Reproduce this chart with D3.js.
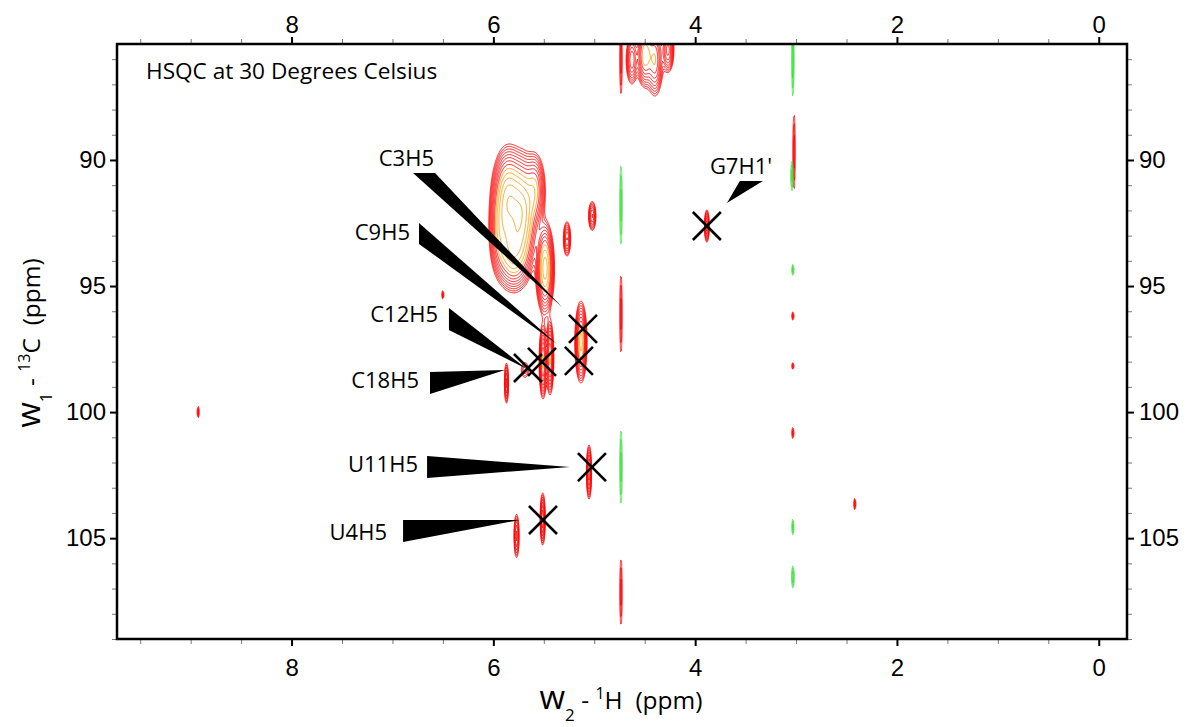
<!DOCTYPE html>
<html>
<head>
<meta charset="utf-8">
<script src="https://cdn.jsdelivr.net/npm/d3@7"></script>
<style>
  body { margin: 0; background: #fff; }
  .tick text { font-family: "Liberation Sans", Arial, sans-serif; font-size: 24px; fill: #000; }
  .lbl { font-family: "Open Sans", sans-serif; font-size: 22px; fill: #000; white-space: pre; }
</style>
</head>
<body>
<svg id="chart" width="1186" height="727"></svg>
<script>
// peaks: [1H ppm, 13C ppm, 1H sigma, 13C sigma, height]  (negative height = green)
const peaks = [
  // big cluster 5.5 - 6.0 ppm
  [5.855, 91.6, 0.07, 0.9, 1.0],
  [5.717, 92.1, 0.07, 1.0, 1.0],
  [5.806, 93.6, 0.08, 0.7, 0.8],
  [5.488, 94.3, 0.04, 0.8, 0.8],
  [5.934, 92.78, 0.05, 0.8, 0.4],
  [5.588, 91.2, 0.05, 0.7, 0.4],
  [5.27, 93.13, 0.02, 0.38, 0.25],
  [5.02, 92.22, 0.02, 0.32, 0.25],
  // cluster at the top edge
  [4.627, 86.03, 0.03, 0.5, 0.3],
  [4.498, 85.83, 0.04, 0.6, 0.5],
  [4.399, 86.03, 0.04, 0.7, 0.4],
  [4.27, 85.64, 0.03, 0.45, 0.35],
  // water t1 streak
  [4.735, 86.0, 0.007, 1.2, 0.12],
  [4.735, 91.79, 0.007, 1.36, -0.12],
  [4.735, 96.11, 0.007, 1.32, 0.12],
  [4.735, 102.18, 0.007, 1.26, -0.12],
  [4.735, 107.14, 0.007, 1.12, 0.12],
  // 3.03 ppm streak
  [3.031, 86.03, 0.007, 1.2, -0.12],
  [3.02, 89.68, 0.007, 1.26, 0.12],
  [3.04, 90.63, 0.007, 0.51, -0.12],
  [3.031, 94.36, 0.006, 0.19, -0.12],
  [3.031, 96.19, 0.006, 0.14, 0.12],
  [3.031, 98.17, 0.006, 0.11, 0.12],
  [3.031, 100.83, 0.006, 0.19, 0.12],
  [3.031, 104.56, 0.006, 0.27, -0.12],
  [3.031, 106.54, 0.008, 0.36, -0.12],
  // isolated small peaks
  [2.417, 103.65, 0.006, 0.19, 0.12],
  [8.926, 100.0, 0.006, 0.19, 0.12],
  [6.50, 95.35, 0.006, 0.14, 0.12],
  // assigned peaks
  [3.884, 92.62, 0.012, 0.34, 0.3],
  [5.132, 97.22, 0.027, 0.73, 0.6],
  [5.508, 98.01, 0.018, 0.7, 0.45],
  [5.439, 97.85, 0.018, 0.7, 0.45],
  [5.052, 102.38, 0.013, 0.57, 0.3],
  [5.511, 104.24, 0.013, 0.55, 0.3],
  [5.87, 98.85, 0.012, 0.48, 0.2],
  [5.687, 98.33, 0.03, 0.25, 0.1],
  [5.77, 104.91, 0.015, 0.52, 0.2]
];

const levels = [0.05, 0.065, 0.0845, 0.11, 0.143, 0.186, 0.241, 0.314, 0.408, 0.53, 0.69, 0.9, 1.16];
const hotLevel = 0.4;

const crossPeaks = [
  [3.884, 92.62], [5.112, 96.70], [5.152, 97.97], [5.518, 98.01],
  [5.657, 98.25], [5.023, 102.18], [5.508, 104.28]
];

const labelNames = ["C3H5", "C9H5", "C12H5", "C18H5", "U11H5", "U4H5", "G7H1'"];
const labelAt = [
  [6.588, 90.24], [6.826, 93.17], [6.548, 96.43], [6.737, 99.04],
  [6.747, 102.38], [7.054, 105.07], [3.854, 90.56]
];
const wedges = [
  [[6.796, 90.52], [6.578, 90.52], [5.320, 95.83]],
  [[6.737, 92.50], [6.737, 93.33], [5.370, 97.30]],
  [[6.440, 95.87], [6.440, 96.74], [5.667, 98.29]],
  [[6.628, 98.41], [6.628, 99.28], [5.885, 98.33]],
  [[6.657, 101.74], [6.657, 102.61], [5.241, 102.18]],
  [[6.895, 104.28], [6.895, 105.15], [5.736, 104.28]],
  [[3.557, 90.83], [3.329, 90.83], [3.685, 91.71]]
];

const hTicks = [0, 2, 4, 6, 8];
const cTicks = [90, 95, 100, 105];

const svg = d3.select('#chart');
const margin = { top: 44, left: 117, right: 59, bottom: 88 };
const width = 1186 - margin.left - margin.right;
const height = 727 - margin.top - margin.bottom;

const x = d3.scaleLinear().domain([9.73, -0.28]).range([0, width]);
const y = d3.scaleLinear().domain([85.4, 109.0]).range([0, height]);

const g = svg.append('g').attr('transform', `translate(${margin.left},${margin.top})`);

// spectrum grid -> contours
const gw = Math.round(width), gh = Math.round(height);
const pos = new Float64Array(gw * gh);
const neg = new Float64Array(gw * gh);
peaks.forEach(([h, c, sh, sc, a]) => {
  const cx = x(h), cy = y(c);
  const sx = Math.abs(x(h + sh) - cx), sy = Math.abs(y(c + sc) - cy);
  const grid = a > 0 ? pos : neg;
  const amp = Math.abs(a);
  const i0 = Math.max(0, Math.floor(cx - 4 * sx)), i1 = Math.min(gw - 1, Math.ceil(cx + 4 * sx));
  const j0 = Math.max(0, Math.floor(cy - 4 * sy)), j1 = Math.min(gh - 1, Math.ceil(cy + 4 * sy));
  for (let j = j0; j <= j1; j++) {
    const dy = (j + 0.5 - cy) / sy;
    for (let i = i0; i <= i1; i++) {
      const dx = (i + 0.5 - cx) / sx;
      grid[j * gw + i] += amp * Math.exp(-0.5 * (dx * dx + dy * dy));
    }
  }
});

const contour = d3.contours().size([gw, gh]).thresholds(levels);
const path = d3.geoPath();
const spec = g.append('g');
spec.selectAll('path.pos')
  .data(contour(pos))
  .enter()
  .append('path')
  .attr('d', path)
  .attr('fill', 'none')
  .attr('stroke', d => d.value >= hotLevel ? '#ff9900' : '#ff0000')
  .attr('stroke-width', 0.9);
spec.selectAll('path.neg')
  .data(contour(neg))
  .enter()
  .append('path')
  .attr('d', path)
  .attr('fill', 'none')
  .attr('stroke', '#33dd33')
  .attr('stroke-width', 0.8);

// annotation wedges
g.selectAll('polygon.wedge')
  .data(wedges)
  .enter()
  .append('polygon')
  .attr('points', d => d.map(p => `${x(p[0])},${y(p[1])}`).join(' '))
  .attr('fill', '#000');

g.selectAll('text.name')
  .data(labelNames)
  .enter()
  .append('text')
  .attr('class', 'lbl')
  .attr('x', (d, i) => x(labelAt[i][0]))
  .attr('y', (d, i) => y(labelAt[i][1]))
  .attr('text-anchor', d => d === "G7H1'" ? 'start' : 'end')
  .text(d => d);

// X marks on assigned peaks
const xs = 14;
const cross = g.selectAll('g.cross')
  .data(crossPeaks)
  .enter()
  .append('g')
  .attr('transform', d => `translate(${x(d[0])},${y(d[1])})`);
cross.append('line').attr('x1', -xs).attr('y1', -xs).attr('x2', xs).attr('y2', xs);
cross.append('line').attr('x1', -xs).attr('y1', xs).attr('x2', xs).attr('y2', -xs);
cross.selectAll('line').attr('stroke', '#000').attr('stroke-width', 2.6);

g.append('text')
  .attr('class', 'lbl')
  .attr('x', 29)
  .attr('y', 35)
  .style('font-size', '22.6px')
  .text('HSQC at 30 Degrees Celsius');

// axes
function styleMinor(sel) {
  sel.select('.domain').remove();
  sel.selectAll('line').attr('stroke', '#777').attr('stroke-width', 1);
  sel.selectAll('text').remove();
}
function styleMajor(sel) {
  sel.select('.domain').remove();
  sel.selectAll('line').attr('stroke', '#000').attr('stroke-width', 2);
}
const hMinor = d3.range(0, 9.75, 0.5);
const cMinor = d3.range(86, 109.01, 1);

g.append('g').call(d3.axisTop(x).tickValues(hMinor).tickSize(5)).call(styleMinor);
g.append('g').attr('transform', `translate(0,${height})`)
  .call(d3.axisBottom(x).tickValues(hMinor).tickSize(5)).call(styleMinor);
g.append('g').call(d3.axisLeft(y).tickValues(cMinor).tickSize(5)).call(styleMinor);
g.append('g').attr('transform', `translate(${width},0)`)
  .call(d3.axisRight(y).tickValues(cMinor).tickSize(5)).call(styleMinor);

g.append('g').call(d3.axisTop(x).tickValues(hTicks).tickSize(7).tickPadding(4).tickFormat(d3.format('d'))).call(styleMajor);
g.append('g').attr('transform', `translate(0,${height})`)
  .call(d3.axisBottom(x).tickValues(hTicks).tickSize(7).tickPadding(13).tickFormat(d3.format('d'))).call(styleMajor);
g.append('g').call(d3.axisLeft(y).tickValues(cTicks).tickSize(7).tickPadding(4)).call(styleMajor);
g.append('g').attr('transform', `translate(${width},0)`)
  .call(d3.axisRight(y).tickValues(cTicks).tickSize(7).tickPadding(5)).call(styleMajor);

g.append('rect')
  .attr('width', width)
  .attr('height', height)
  .attr('fill', 'none')
  .attr('stroke', '#000')
  .attr('stroke-width', 2.5);

// axis titles
const xt = svg.append('text')
  .attr('class', 'lbl')
  .attr('x', 621)
  .attr('y', 709)
  .attr('text-anchor', 'middle')
  .style('font-size', '24.5px');
xt.append('tspan').style('font-size', '33px').text('w');
xt.append('tspan').style('font-size', '17px').attr('dy', 12).text('2');
xt.append('tspan').attr('dy', -12).text(' - ');
xt.append('tspan').style('font-size', '16px').attr('dy', -10).text('1');
xt.append('tspan').attr('dy', 10).text('H  (ppm)');

const yt = svg.append('text')
  .attr('class', 'lbl')
  .attr('transform', 'translate(40,343) rotate(-90)')
  .attr('text-anchor', 'middle')
  .style('font-size', '24.5px');
yt.append('tspan').style('font-size', '33px').text('w');
yt.append('tspan').style('font-size', '17px').attr('dy', 12).text('1');
yt.append('tspan').attr('dy', -12).text(' - ');
yt.append('tspan').style('font-size', '16px').attr('dy', -10).text('13');
yt.append('tspan').attr('dy', 10).text('C  (ppm)');
</script>
</body>
</html>
